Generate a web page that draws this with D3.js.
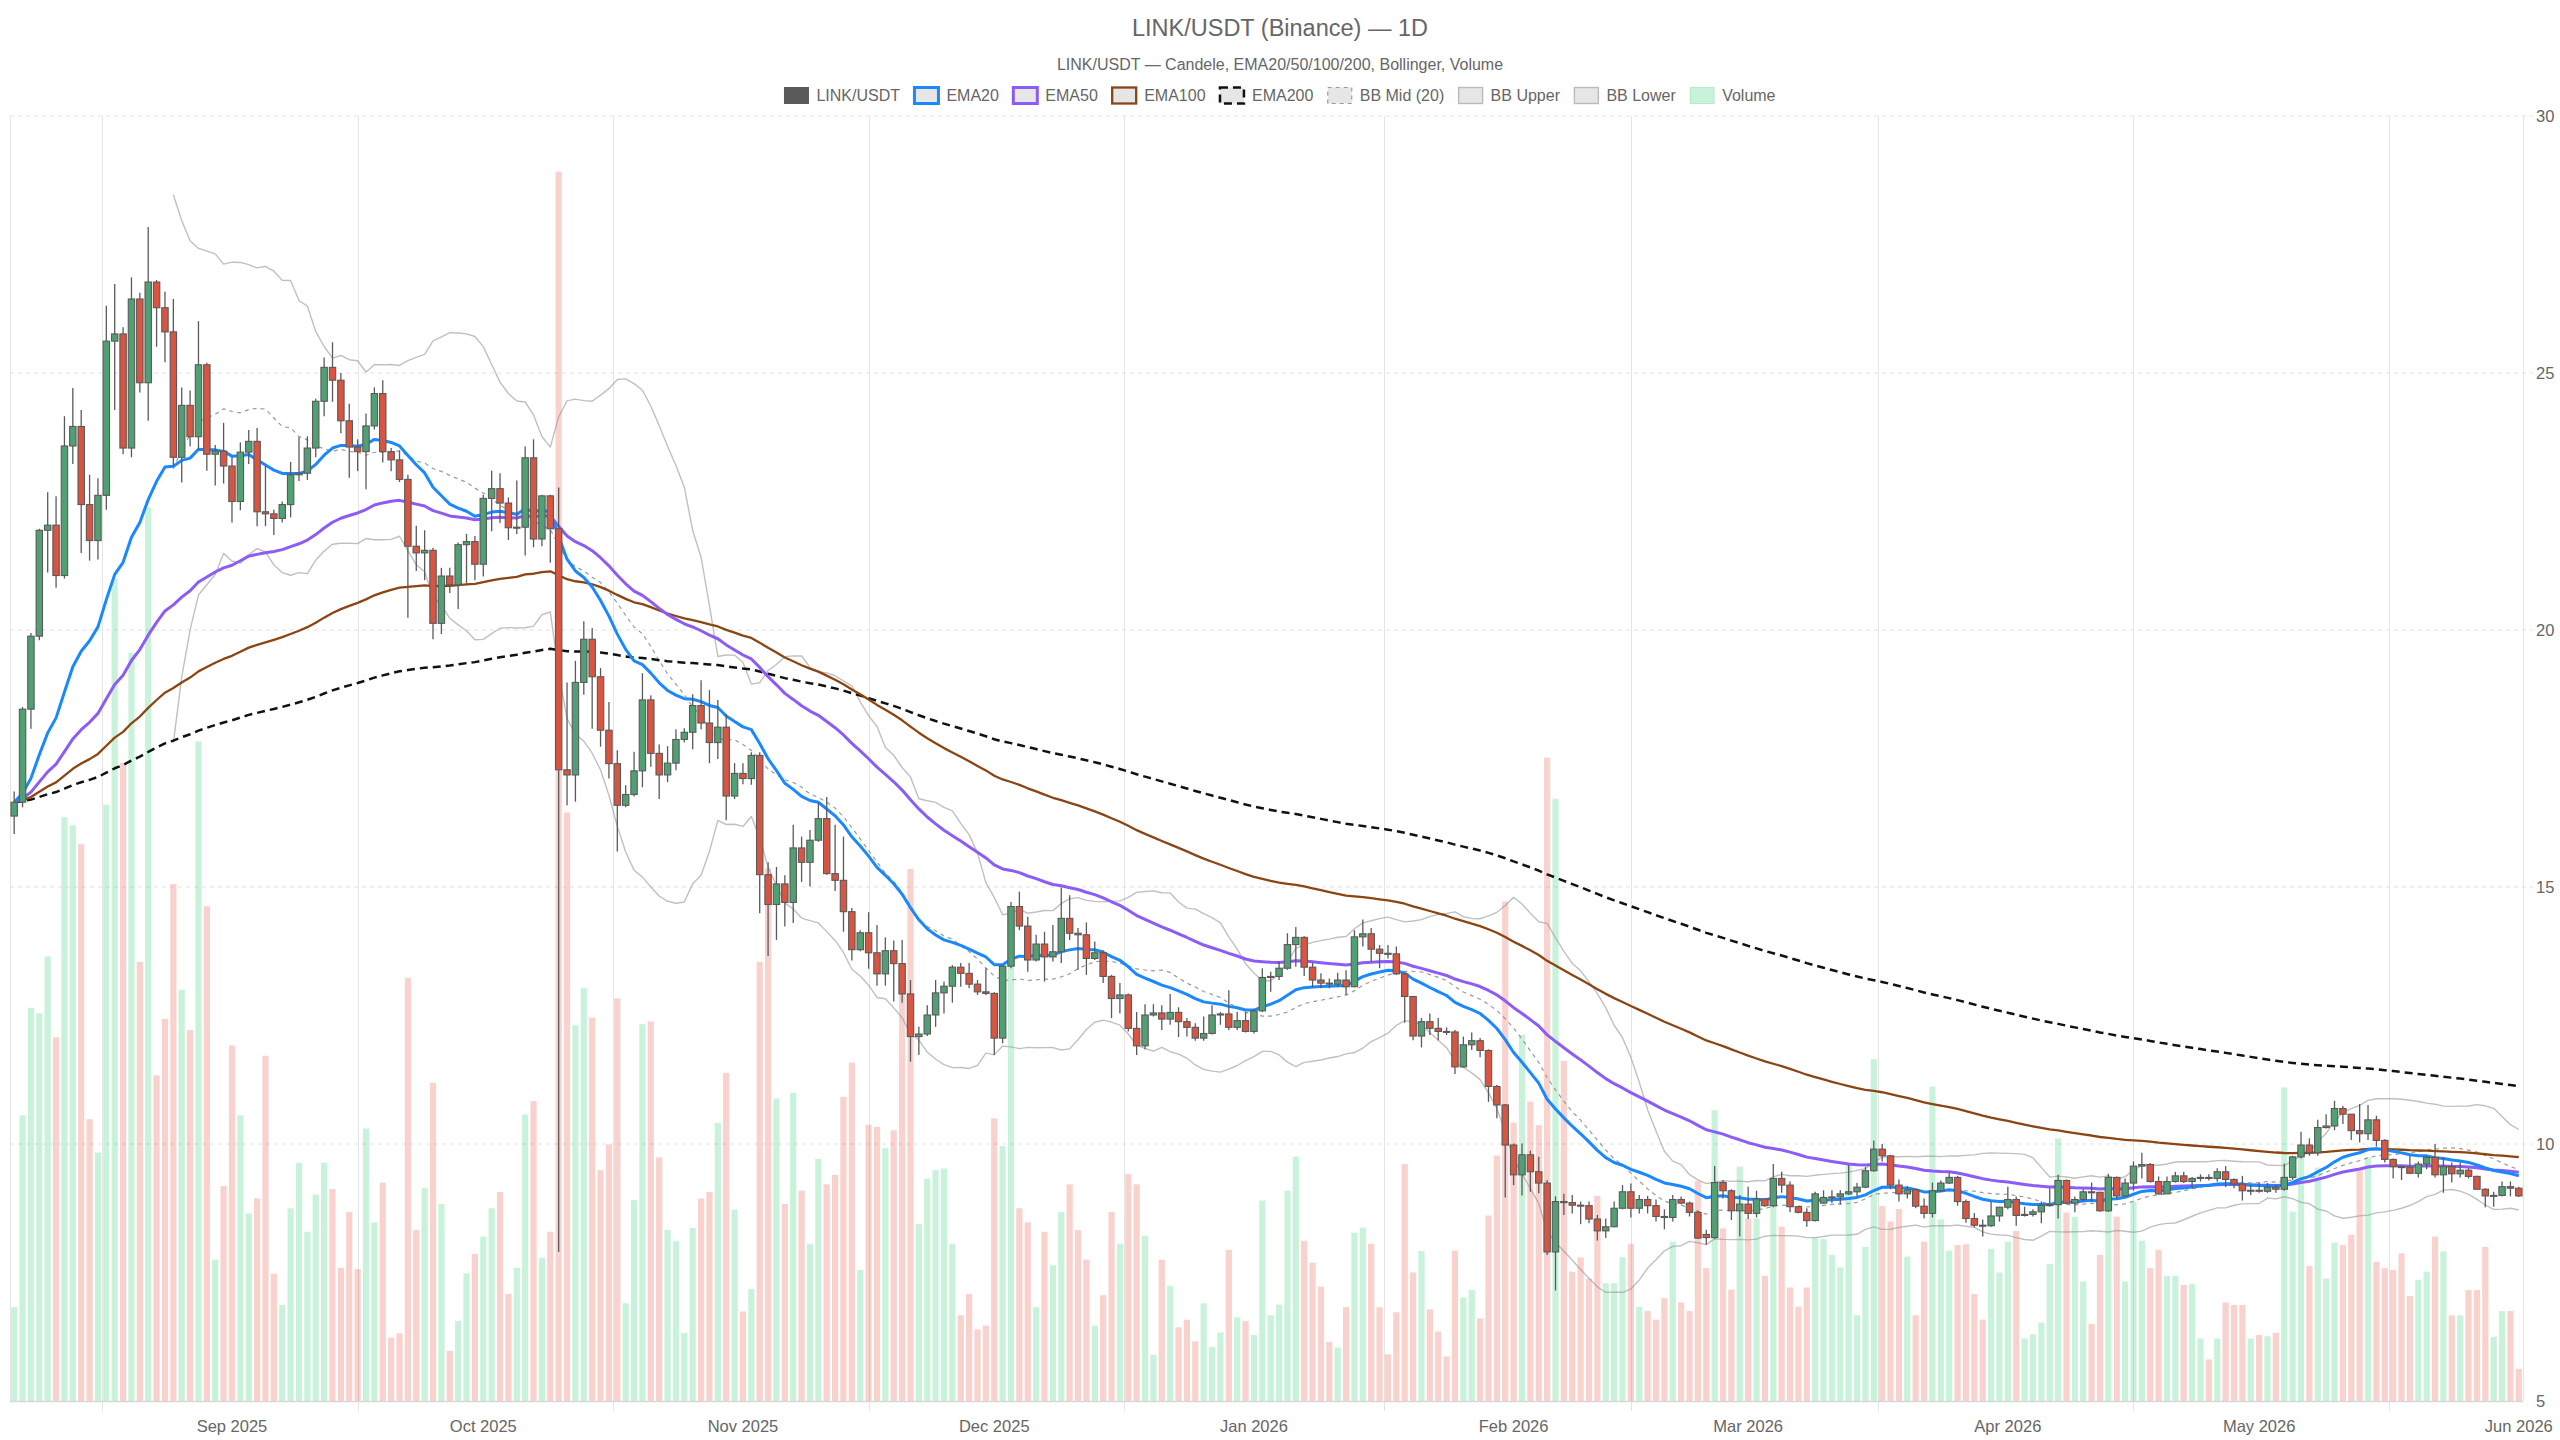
<!DOCTYPE html>
<html><head><meta charset="utf-8">
<script src="https://cdn.jsdelivr.net/npm/d3@7"></script>
<style>
html,body{margin:0;padding:0;background:#fff;}
svg{display:block;font-family:"Liberation Sans",Arial,Helvetica,sans-serif;}
</style></head><body>
<svg id="chart" width="2560" height="1440"></svg>
<script>
// ---------------- DATA ----------------
const startDate = "2025-08-06"; // first daily candle, one candle per day
const open = [16.38,16.65,18.46,19.88,21.94,22.04,21.06,23.58,23.96,22.44,21.74,22.62,25.62,25.76,23.54,26.44,24.81,26.77,26.27,25.8,
23.36,24.37,23.76,25.16,23.42,23.48,23.19,22.5,23.46,23.67,22.3,22.26,22.17,22.44,23.02,23.05,23.54,24.45,25.11,24.86,
24.07,23.56,23.47,23.97,24.6,23.47,23.31,22.93,21.63,21.5,21.55,20.13,21.05,20.88,21.66,21.72,21.28,22.56,22.75,22.47,
21.99,22.0,23.35,21.77,22.61,21.97,17.28,17.18,18.98,19.82,19.09,18.05,17.4,16.59,16.8,17.26,18.64,17.6,17.18,17.41,
17.87,18.01,18.53,18.19,17.81,18.11,16.77,17.21,17.11,17.56,15.24,14.66,15.06,14.7,15.76,15.48,15.91,16.33,15.26,15.13,
14.52,13.78,14.11,13.72,13.31,13.76,13.51,12.92,12.09,12.14,12.51,12.94,13.07,13.44,13.32,13.11,12.96,12.93,12.06,13.46,
14.62,14.24,13.58,13.89,13.64,13.74,14.39,14.1,14.07,13.61,13.72,13.26,12.83,12.9,12.25,11.91,12.51,12.55,12.43,12.56,
12.38,12.27,12.06,12.15,12.51,12.53,12.27,12.4,12.19,12.59,13.24,13.26,13.42,13.88,14.02,13.44,13.19,13.13,13.11,13.19,
13.06,14.03,14.09,13.79,13.71,13.7,13.31,12.87,12.1,12.38,12.25,12.19,12.18,11.5,11.93,12.01,11.82,11.12,10.76,9.98,
9.4,9.79,9.46,9.24,7.9,8.88,8.86,8.81,8.8,8.54,8.31,8.39,8.75,9.07,8.75,8.92,8.8,8.59,8.57,8.92,
8.85,8.67,8.24,8.18,9.25,9.09,8.7,8.83,8.65,8.93,8.8,9.33,9.2,8.78,8.67,8.51,8.85,8.96,8.97,9.03,
9.07,9.16,9.48,9.9,9.77,9.2,9.03,9.11,8.79,8.65,9.09,9.24,9.35,8.88,8.55,8.42,8.41,8.6,8.77,8.92,
8.61,8.63,8.68,8.81,8.82,9.29,8.85,8.92,9.07,9.06,8.7,9.35,8.99,9.24,9.57,9.6,9.27,9.03,9.27,9.38,
9.27,9.33,9.35,9.33,9.46,9.31,9.22,9.09,9.1,9.08,9.16,9.12,9.35,9.75,9.98,9.83,10.32,10.35,10.69,10.58,
10.26,10.2,10.47,10.07,9.7,9.56,9.55,9.43,9.61,9.74,9.4,9.56,9.42,9.49,9.37,9.12,8.99,9.0,9.17,9.14];
const high = [16.86,18.5,19.94,21.97,22.68,22.6,24.16,24.71,24.28,23.02,22.95,26.31,26.73,25.89,26.86,26.56,27.84,26.81,26.58,26.44,
24.72,24.66,26.01,25.2,23.6,24.03,23.36,23.65,23.89,23.93,23.19,22.34,22.5,23.27,23.75,23.77,24.5,25.3,25.6,25.0,
24.4,23.71,24.21,24.72,24.86,23.54,23.49,23.02,22.03,21.94,21.6,21.21,21.21,21.7,21.87,21.83,22.63,23.1,23.05,22.58,
22.91,23.57,23.71,22.63,22.63,22.77,18.98,19.4,20.17,20.04,19.26,18.6,17.66,16.98,17.63,19.16,18.73,17.77,17.74,18.07,
18.09,18.75,19.02,18.83,18.64,18.36,17.41,17.41,17.62,17.62,15.48,15.39,15.23,16.21,15.98,16.11,16.64,16.75,16.21,15.98,
14.59,14.16,14.51,14.26,14.02,13.96,13.97,13.19,12.28,12.7,13.19,13.16,13.48,13.52,13.52,13.19,13.42,12.95,13.48,14.71,
14.91,14.42,14.07,14.13,14.26,14.99,14.84,14.2,14.31,13.94,13.77,13.29,13.13,12.93,12.57,12.72,12.72,12.7,12.92,12.66,
12.45,12.35,12.48,12.7,12.57,12.99,12.57,12.57,12.62,13.42,13.35,13.55,14.1,14.22,14.04,13.53,13.32,13.22,13.33,13.38,
14.16,14.37,14.2,13.87,13.87,13.84,13.32,12.88,12.45,12.54,12.45,12.27,12.22,12.09,12.17,12.06,11.84,11.15,10.78,10.01,
10.01,9.87,9.75,9.3,8.98,9.03,9.01,8.88,8.88,8.62,8.55,8.88,9.2,9.23,9.01,8.99,8.92,8.73,9.01,8.98,
8.88,8.7,8.33,9.57,9.3,9.12,9.01,9.17,9.09,8.95,9.61,9.46,9.27,8.79,8.75,9.07,9.1,9.1,9.1,9.59,
9.24,9.55,10.07,10.0,9.79,9.31,9.18,9.12,8.94,9.25,9.29,9.44,9.38,8.92,8.66,8.53,8.88,8.78,9.17,8.98,
8.78,8.73,8.88,9.14,9.4,9.31,8.98,9.12,9.25,9.07,9.42,9.37,9.33,9.66,9.83,9.63,9.37,9.37,9.46,9.46,
9.36,9.41,9.41,9.53,9.57,9.33,9.38,9.2,9.25,9.24,9.2,9.62,9.77,10.24,10.11,10.47,10.58,10.84,10.74,10.58,
10.78,10.76,10.55,10.09,9.72,9.57,9.77,9.66,9.77,10.0,9.74,9.64,9.64,9.53,9.38,9.14,9.07,9.27,9.27,9.17];
const low = [16.03,16.55,18.08,19.8,21.12,20.82,21.0,23.23,21.5,21.35,21.37,22.34,24.28,23.42,23.36,24.62,24.07,25.51,25.21,23.19,
22.87,23.57,23.51,23.1,22.81,22.85,22.09,22.33,23.23,22.02,22.02,21.85,22.09,22.19,22.9,22.92,23.36,24.16,24.44,23.83,
22.96,23.09,22.74,23.9,23.26,23.09,22.88,20.24,21.15,20.97,19.82,19.92,20.72,20.41,20.9,20.97,21.04,21.92,22.08,21.75,
21.87,21.45,21.61,21.63,21.31,7.9,16.59,16.66,18.74,18.08,17.73,17.11,15.69,16.55,16.76,16.94,17.34,16.71,17.04,17.27,
17.81,17.68,18.07,17.41,17.49,16.3,16.71,17.0,16.99,14.49,13.66,13.97,14.23,14.3,15.1,15.01,15.88,15.24,14.92,14.13,
13.57,13.75,13.41,13.08,13.08,12.77,12.75,11.6,11.73,12.1,12.28,12.54,12.75,13.06,13.03,12.9,12.9,11.73,11.96,13.42,
14.16,13.35,13.55,13.16,13.55,13.52,13.97,13.39,13.29,13.58,13.13,12.45,12.54,12.19,11.73,11.84,12.48,12.22,12.32,12.08,
12.09,12.01,12.01,12.13,12.32,12.22,12.22,12.17,12.15,12.57,12.96,13.19,13.39,13.45,13.27,13.05,13.03,13.03,13.05,12.9,
13.05,13.84,13.55,13.42,13.61,13.29,12.36,12.02,11.88,12.12,12.02,12.12,11.36,11.49,11.83,11.69,10.82,10.5,8.96,9.2,
9.0,9.07,9.04,7.84,7.15,8.62,8.65,8.44,8.46,8.12,8.17,8.38,8.73,8.57,8.65,8.65,8.49,8.34,8.49,8.83,
8.59,8.15,8.04,8.15,8.94,8.52,8.2,8.54,8.57,8.78,8.77,9.05,8.67,8.65,8.39,8.49,8.84,8.85,8.83,9.01,
8.98,9.14,9.46,9.66,9.12,8.88,8.94,8.75,8.55,8.57,9.07,9.22,8.8,8.47,8.38,8.2,8.39,8.49,8.73,8.41,
8.59,8.59,8.46,8.78,8.55,8.83,8.67,8.88,8.88,8.68,8.68,8.94,8.98,9.09,9.33,9.25,9.01,9.03,9.25,9.24,
9.14,9.27,9.29,9.27,9.16,9.14,8.9,9.01,9.05,9.05,9.05,9.09,9.3,9.72,9.77,9.77,10.3,10.27,10.39,10.08,
10.03,10.08,9.95,9.64,9.33,9.3,9.42,9.35,9.51,9.35,9.05,9.25,9.35,9.33,9.11,8.77,8.78,8.98,8.98,8.97];
const close = [16.65,18.46,19.88,21.94,22.04,21.06,23.58,23.96,22.44,21.74,22.62,25.62,25.76,23.54,26.44,24.81,26.77,26.27,25.8,23.36,
24.37,23.76,25.16,23.42,23.48,23.19,22.5,23.46,23.67,22.3,22.26,22.17,22.44,23.02,23.05,23.54,24.45,25.11,24.86,24.07,
23.56,23.47,23.97,24.6,23.47,23.31,22.93,21.63,21.5,21.55,20.13,21.05,20.88,21.66,21.72,21.28,22.56,22.75,22.47,21.99,
22.0,23.35,21.77,22.61,21.97,17.28,17.18,18.98,19.82,19.09,18.05,17.4,16.59,16.8,17.26,18.64,17.6,17.18,17.41,17.87,
18.01,18.53,18.19,17.81,18.11,16.77,17.21,17.11,17.56,15.24,14.66,15.06,14.7,15.76,15.48,15.91,16.33,15.26,15.13,14.52,
13.78,14.11,13.72,13.31,13.76,13.51,12.92,12.09,12.14,12.51,12.94,13.07,13.44,13.32,13.11,12.96,12.93,12.06,13.46,14.62,
14.24,13.58,13.89,13.64,13.74,14.39,14.1,14.07,13.61,13.72,13.26,12.83,12.9,12.25,11.91,12.51,12.55,12.43,12.56,12.38,
12.27,12.06,12.15,12.51,12.53,12.27,12.4,12.19,12.59,13.24,13.26,13.42,13.88,14.02,13.44,13.19,13.13,13.11,13.19,13.06,
14.03,14.09,13.79,13.71,13.7,13.31,12.87,12.1,12.38,12.25,12.19,12.18,11.5,11.93,12.01,11.82,11.12,10.76,9.98,9.4,
9.79,9.46,9.24,7.9,8.88,8.86,8.81,8.8,8.54,8.31,8.39,8.75,9.07,8.75,8.92,8.8,8.59,8.57,8.92,8.85,
8.67,8.17,8.18,9.25,9.09,8.7,8.83,8.65,8.93,8.8,9.33,9.2,8.78,8.67,8.51,9.03,8.96,8.97,9.03,9.07,
9.16,9.48,9.9,9.77,9.2,9.03,9.11,8.79,8.65,9.09,9.24,9.35,8.88,8.55,8.42,8.41,8.6,8.77,8.92,8.61,
8.63,8.68,8.81,8.82,9.29,8.85,8.92,9.07,9.06,8.7,9.35,8.99,9.24,9.57,9.6,9.27,9.03,9.27,9.38,9.27,
9.33,9.35,9.33,9.46,9.31,9.22,9.09,9.1,9.08,9.16,9.12,9.35,9.75,9.98,9.83,10.32,10.35,10.69,10.58,10.26,
10.2,10.47,10.07,9.7,9.56,9.55,9.43,9.61,9.74,9.4,9.56,9.42,9.49,9.37,9.12,8.99,9.0,9.17,9.14,8.99];
// daily volume, millions of LINK
const volume = [2.19,6.67,9.18,9.05,10.38,8.49,13.63,13.44,13.0,6.58,5.8,13.92,19.19,14.9,17.47,10.25,20.86,7.6,8.92,12.07,
9.6,8.66,15.4,11.55,3.3,5.02,8.3,6.67,4.38,4.73,8.06,2.97,2.24,4.5,5.56,3.95,4.82,5.56,4.95,3.11,
4.41,3.08,6.36,4.17,5.1,1.48,1.58,9.88,3.99,4.97,7.43,4.6,1.17,1.87,2.98,3.43,3.84,4.5,4.88,2.5,
3.11,6.69,7.0,3.34,3.95,28.7,13.74,8.77,9.64,8.95,5.39,5.99,9.4,2.28,4.69,8.8,8.86,5.69,3.99,3.73,
1.59,4.04,4.73,4.88,6.49,7.66,4.47,2.09,2.61,10.25,12.44,7.06,4.6,7.19,4.91,3.67,5.65,5.06,5.28,7.1,
7.9,3.06,6.45,6.4,5.9,6.32,9.88,12.42,4.13,5.19,5.39,5.43,3.67,2.0,2.5,1.67,1.76,6.6,5.95,11.18,
4.5,4.17,2.19,3.95,3.17,4.41,5.06,3.99,3.3,1.76,2.47,4.41,3.67,5.3,5.06,3.86,1.08,3.3,2.69,1.72,
1.9,1.39,2.28,1.26,1.6,3.53,1.95,1.87,1.54,4.68,2.0,2.25,4.91,5.7,3.74,3.23,2.67,1.38,1.25,2.19,
3.93,4.05,3.67,2.19,1.09,2.07,5.53,3.0,3.5,2.14,1.62,1.04,3.51,2.42,2.59,1.93,4.33,5.73,11.66,6.5,
8.55,6.99,6.44,15.02,14.06,7.94,3.02,3.35,2.86,4.79,2.75,2.75,3.36,3.67,2.2,2.1,1.9,2.4,3.72,2.3,
2.1,5.14,3.1,6.79,4.03,2.6,5.47,4.26,4.26,2.92,4.86,4.07,2.65,2.2,2.65,3.82,3.78,3.41,3.12,5.51,
2.0,3.6,7.98,4.55,4.19,4.48,3.37,2.0,3.72,7.34,4.24,3.51,3.64,3.66,2.5,1.9,3.55,3.0,3.72,3.97,
1.46,1.56,1.83,3.2,6.13,4.4,4.3,2.79,1.8,3.41,5.24,4.3,2.79,4.65,3.74,3.1,3.53,2.92,2.92,2.71,
2.73,1.46,0.97,1.46,2.3,2.24,2.24,1.46,1.54,1.51,1.59,7.32,4.42,5.72,3.15,5.45,2.86,3.7,3.64,3.88,
5.39,5.69,3.25,3.1,3.06,3.45,2.45,2.83,3.02,3.84,3.49,2.0,2.0,2.59,2.59,3.6,1.5,2.1,2.1,0.75];

const monthTicks = ["2025-09-01","2025-10-01","2025-11-01","2025-12-01","2026-01-01","2026-02-01","2026-03-01","2026-04-01","2026-05-01","2026-06-01"];
const monthLabels = ["Sep 2025","Oct 2025","Nov 2025","Dec 2025","Jan 2026","Feb 2026","Mar 2026","Apr 2026","May 2026","Jun 2026"];
const gridMonthStart = "2025-08-01";
const priceTicks = [5,10,15,20,25,30];
const priceDomain = [5,30];
const volumeDomain = [0,30];
const emaPeriods = [20,50,100,200];
const bbPeriod = 20, bbMult = 2;
const titleText = "LINK/USDT (Binance) — 1D";
const subtitleText = "LINK/USDT — Candele, EMA20/50/100/200, Bollinger, Volume";
const legendLabels = ["LINK/USDT","EMA20","EMA50","EMA100","EMA200","BB Mid (20)","BB Upper","BB Lower","Volume"];

// ---------------- LAYOUT ----------------
const L = 10, R = 2523, T = 116, B = 1401;
const svg = d3.select("#chart");
const parse = s => new Date(s + "T00:00:00Z");
const d0 = parse(startDate);
const dates = close.map((_, i) => d3.utcDay.offset(d0, i));
const n = close.length;

const x = d3.scaleUtc()
  .domain([d3.utcHour.offset(dates[0], -12), d3.utcHour.offset(dates[n-1], 12)])
  .range([L, R]);
const y = d3.scaleLinear().domain(priceDomain).range([B, T]);
const yv = d3.scaleLinear().domain(volumeDomain).range([B, T]);

// indicators derived from the closes
function ema(arr, p){ const k = 2/(p+1); const out=[arr[0]]; for(let i=1;i<arr.length;i++) out.push(arr[i]*k + out[i-1]*(1-k)); return out; }
const emas = emaPeriods.map(p => ema(close, p));
const bbMid=[], bbUp=[], bbLo=[];
for(let i=0;i<n;i++){
  if(i < bbPeriod-1){ bbMid.push(null); bbUp.push(null); bbLo.push(null); continue; }
  const w = close.slice(i-bbPeriod+1, i+1);
  const m = d3.mean(w); const sd = Math.sqrt(d3.mean(w, v => (v-m)*(v-m)));
  bbMid.push(m); bbUp.push(m+bbMult*sd); bbLo.push(m-bbMult*sd);
}

const textColor = "#666";
const gridColor = "#e5e5e5";

svg.append("defs").append("clipPath").attr("id","plotclip")
  .append("rect").attr("x",L).attr("y",T-2).attr("width",R-L).attr("height",B-T+2);

// horizontal grid (dotted)
const gH = svg.append("g");
priceTicks.forEach(v => {
  if (v === priceDomain[0]) return;
  gH.append("line").attr("x1",L).attr("x2",R+10).attr("y1",y(v)).attr("y2",y(v))
    .attr("stroke","#e2e2e2").attr("stroke-width",1).attr("stroke-dasharray","4,4");
});
// vertical grid lines (between month ticks)
const tickDates = [gridMonthStart].concat(monthTicks).map(parse);
const gV = svg.append("g");
for (let k=0;k<tickDates.length-1;k++){
  const xm = Math.round((x(tickDates[k]) + x(tickDates[k+1]))/2) + 0.5;
  gV.append("line").attr("x1",xm).attr("x2",xm).attr("y1",T).attr("y2",B+10)
    .attr("stroke",gridColor).attr("stroke-width",1);
}
svg.append("line").attr("x1",L+0.5).attr("x2",L+0.5).attr("y1",T).attr("y2",B).attr("stroke",gridColor);
svg.append("line").attr("x1",R+0.5).attr("x2",R+0.5).attr("y1",T).attr("y2",B).attr("stroke",gridColor);

const plot = svg.append("g").attr("clip-path","url(#plotclip)");

// volume
const bw = 6.2;
plot.append("g").selectAll("rect").data(volume).join("rect")
  .attr("x",(d,i)=>x(dates[i]) - bw/2).attr("width",bw)
  .attr("y",d=>yv(d)).attr("height",d=>B - yv(d))
  .attr("fill",(d,i)=> close[i] >= open[i] ? "rgba(46,204,113,0.26)" : "rgba(231,76,60,0.26)");

// lines
function drawLine(vals, color, width, dash){
  const line = d3.line().defined(v => v != null).x((v,i)=>x(dates[i])).y(v=>y(v));
  plot.append("path").attr("d", line(vals)).attr("fill","none")
    .attr("stroke",color).attr("stroke-width",width)
    .attr("stroke-dasharray",dash || null).attr("stroke-linejoin","round");
}
drawLine(bbLo, "rgba(150,150,150,0.6)", 1.4);
drawLine(bbUp, "rgba(150,150,150,0.6)", 1.4);
drawLine(bbMid, "#9a9a9a", 1.2, "4,4");
drawLine(emas[3], "#111", 2.5, "8,5");
drawLine(emas[2], "#8b4513", 2.3);
drawLine(emas[1], "#8b5cf6", 3);
drawLine(emas[0], "#1a88ff", 3);

// candles
const cw = 6.4;
const cg = plot.append("g");
for (let i=0;i<n;i++){
  const cx = x(dates[i]);
  const up = close[i] >= open[i];
  cg.append("line").attr("x1",cx).attr("x2",cx).attr("y1",y(high[i])).attr("y2",y(low[i]))
    .attr("stroke","#5a5a5a").attr("stroke-width",1.3);
  const top = y(Math.max(open[i],close[i])), bot = y(Math.min(open[i],close[i]));
  cg.append("rect").attr("x",cx-cw/2).attr("width",cw).attr("y",top).attr("height",Math.max(1,bot-top))
    .attr("fill", up ? "rgb(80,160,115)" : "rgb(215,85,65)")
    .attr("stroke","#5a5a5a").attr("stroke-width",1.1);
}

// axes
svg.append("line").attr("x1",L).attr("x2",R).attr("y1",B+0.5).attr("y2",B+0.5).attr("stroke","#d8d8d8").attr("stroke-width",1.5);
const ax = svg.append("g").attr("font-size",16.5).attr("fill",textColor);
monthTicks.forEach((t,k) => {
  ax.append("text").attr("x", x(parse(t))).attr("y", 1432).attr("text-anchor","middle").text(monthLabels[k]);
});
priceTicks.forEach(v => {
  ax.append("text").attr("x", 2536).attr("y", y(v)+5.5).attr("text-anchor","start").text(v);
});

// title, subtitle
svg.append("text").attr("x",1280).attr("y",36).attr("text-anchor","middle").attr("font-size",23.5).attr("fill",textColor).text(titleText);
svg.append("text").attr("x",1280).attr("y",70).attr("text-anchor","middle").attr("font-size",16).attr("fill",textColor).text(subtitleText);

// legend
const legStyles = [
  {fill:"#5a5a5a", stroke:"#5a5a5a", sw:1, dash:null},
  {fill:"#e6e6e6", stroke:"#1a88ff", sw:3, dash:null},
  {fill:"#e6e6e6", stroke:"#8b5cf6", sw:3, dash:null},
  {fill:"#e6e6e6", stroke:"#8b4513", sw:2.3, dash:null},
  {fill:"#e6e6e6", stroke:"#111", sw:2.5, dash:"8,5"},
  {fill:"#e6e6e6", stroke:"#9a9a9a", sw:1.2, dash:"4,4"},
  {fill:"#e6e6e6", stroke:"rgba(150,150,150,0.6)", sw:1.4, dash:null},
  {fill:"#e6e6e6", stroke:"rgba(150,150,150,0.6)", sw:1.4, dash:null},
  {fill:"rgba(46,204,113,0.26)", stroke:"rgba(46,204,113,0.26)", sw:1, dash:null}
];
const leg = svg.append("g").attr("font-size",16).attr("fill",textColor);
const boxW = 24, boxH = 16, txtGap = 8, itemGap = 14.4, legY = 95.5;
const items = legendLabels.map((lab,k) => {
  const g = leg.append("g");
  const t = g.append("text").attr("y", legY+5.5).text(lab);
  return {g, t, w: t.node().getComputedTextLength(), s: legStyles[k]};
});
const totalW = d3.sum(items, d => boxW + txtGap + d.w) + itemGap*(items.length-1);
let cx0 = 1280 - totalW/2;
items.forEach(it => {
  it.g.insert("rect","text").attr("x",cx0).attr("y",legY-boxH/2).attr("width",boxW).attr("height",boxH)
    .attr("fill",it.s.fill).attr("stroke",it.s.stroke).attr("stroke-width",it.s.sw).attr("stroke-dasharray",it.s.dash);
  it.t.attr("x", cx0 + boxW + txtGap);
  cx0 += boxW + txtGap + it.w + itemGap;
});
</script>
</body></html>
